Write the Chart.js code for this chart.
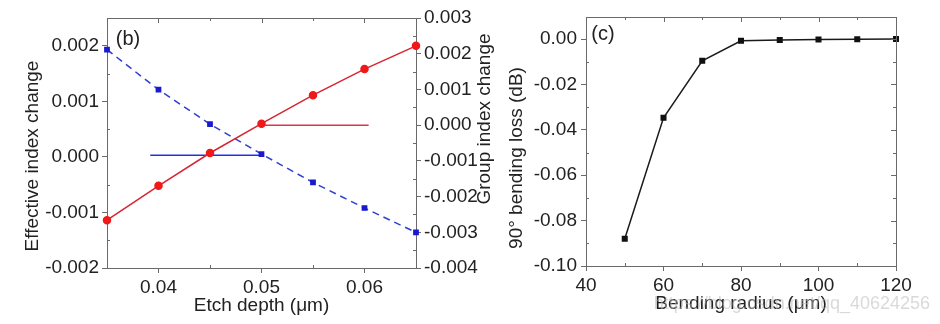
<!DOCTYPE html>
<html>
<head>
<meta charset="utf-8">
<script src="https://cdn.jsdelivr.net/npm/chart.js@4.4.1/dist/chart.umd.min.js"></script>
<style>
  html, body { margin: 0; padding: 0; background: #fff; }
  #wrap { position: relative; width: 940px; height: 324px; overflow: hidden; }
  #cb { position: absolute; left: 0; top: 0; }
  #cc { position: absolute; left: 500px; top: 0; }
</style>
</head>
<body>
<div id="wrap">
  <canvas id="cb" width="500" height="324"></canvas>
  <canvas id="cc" width="440" height="324"></canvas>
</div>
<script>
// ---- panel (b) data ----
const etchDepth = [0.035, 0.04, 0.045, 0.05, 0.055, 0.06, 0.065];
const groupIndexChange = [-0.00266, -0.0017, -0.00078, 0.00004, 0.00084, 0.00157, 0.00222];
const effIndexChange = [0.00193, 0.00121, 0.00059, 0.00005, -0.00046, -0.00092, -0.00136];
const blueArrowX = [0.0392, 0.05];
const blueArrowY = [0.00003, 0.00003];
const redArrowX = [0.05, 0.0604];
const redArrowY = [0, 0];
const depthTicks = [0.04, 0.05, 0.06];
const depthMinor = [0.045, 0.055];
const effTicks = [-0.002, -0.001, 0, 0.001, 0.002];
const effMinor = [-0.0015, -0.0005, 0.0005, 0.0015];
const groupTicks = [-0.004, -0.003, -0.002, -0.001, 0, 0.001, 0.002, 0.003];
const groupMinor = [-0.0035, -0.0025, -0.0015, -0.0005, 0.0005, 0.0015, 0.0025];

// ---- panel (c) data ----
const bendRadius = [50, 60, 70, 80, 90, 100, 110, 120];
const bendLoss = [-0.088, -0.0347, -0.0096, -0.0008, -0.0004, -0.0002, -0.0001, 0];
const radiusTicks = [40, 60, 80, 100, 120];
const radiusMinor = [50, 70, 90, 110];
const lossTicks = [-0.10, -0.08, -0.06, -0.04, -0.02, 0.00];
const lossMinor = [-0.09, -0.07, -0.05, -0.03, -0.01];

const FONT = '"Liberation Sans", Arial, sans-serif';
const axisColor = '#6a6a6a';
const textColor = '#222';

function xy(xs, ys) {
  return xs.map((x, i) => ({ x: x, y: ys[i] }));
}

function axis(tickList, digits, extra) {
  return Object.assign({
    type: 'linear',
    border: { display: true, color: axisColor, width: 1 },
    grid: { display: true, drawOnChartArea: false, drawTicks: true, tickLength: 5, color: axisColor },
    ticks: {
      color: textColor, font: { family: FONT, size: 19 }, padding: 3,
      autoSkip: false, maxRotation: 0,
      callback: v => Number(v).toFixed(digits)
    },
    afterBuildTicks: s => { s.ticks = tickList.map(v => ({ value: v })); }
  }, extra);
}

// minor ticks, frame and free texts
const decor = {
  id: 'decor',
  afterDraw(chart, args, o) {
    const { ctx, chartArea: a, scales } = chart;
    const r = v => Math.round(v) + 0.5;
    ctx.save();
    ctx.strokeStyle = axisColor;
    ctx.lineWidth = 1;
    ctx.beginPath();
    // top frame
    ctx.moveTo(a.left, r(a.top)); ctx.lineTo(a.right, r(a.top));
    if (o.rightFrame) { ctx.moveTo(r(a.right), a.top); ctx.lineTo(r(a.right), a.bottom); }
    const x = scales.x, y = scales.y;
    o.xMinor.forEach(v => {
      const p = r(x.getPixelForValue(v));
      ctx.moveTo(p, a.bottom); ctx.lineTo(p, a.bottom - 3);
      ctx.moveTo(p, a.top); ctx.lineTo(p, a.top + 3);
    });
    o.xMajor.forEach(v => {
      const p = r(x.getPixelForValue(v));
      ctx.moveTo(p, a.top); ctx.lineTo(p, a.top + 5);
    });
    o.yMinor.forEach(v => {
      const p = r(y.getPixelForValue(v));
      ctx.moveTo(a.left, p); ctx.lineTo(a.left + 3, p);
      if (o.rightFrame) { ctx.moveTo(a.right, p); ctx.lineTo(a.right - 3, p); }
    });
    if (o.rightFrame) {
      o.yMajor.forEach(v => {
        const p = r(y.getPixelForValue(v));
        ctx.moveTo(a.right, p); ctx.lineTo(a.right - 5, p);
      });
    }
    if (o.y1Minor && scales.y1) {
      o.y1Minor.forEach(v => {
        const p = r(scales.y1.getPixelForValue(v));
        ctx.moveTo(a.right, p); ctx.lineTo(a.right - 3, p);
      });
    }
    ctx.stroke();

    o.texts.forEach(t => {
      ctx.save();
      ctx.translate(t.x, t.y);
      ctx.rotate(t.rot || 0);
      ctx.font = (t.size || 19) + 'px ' + FONT;
      ctx.fillStyle = t.color || textColor;
      ctx.textAlign = t.align || 'center';
      ctx.textBaseline = 'middle';
      ctx.fillText(t.text, 0, 0);
      ctx.restore();
    });
    ctx.restore();
  }
};

// ---- chart (b) ----
new Chart(document.getElementById('cb'), {
  type: 'line',
  data: {
    datasets: [{
      data: xy(etchDepth, groupIndexChange),
      yAxisID: 'y1',
      borderColor: '#d62532',
      borderWidth: 1.5,
      pointRadius: 3.5,
      pointBackgroundColor: '#f01818',
      pointBorderColor: '#f01818',
      clip: false
    }, {
      data: xy(etchDepth, effIndexChange),
      yAxisID: 'y',
      borderColor: '#2f3fcc',
      borderWidth: 1.5,
      borderDash: [7, 5],
      pointStyle: 'rect',
      pointRadius: 3,
      pointBackgroundColor: '#1a1ad0',
      pointBorderColor: '#1a1ad0',
      clip: false
    }, {
      data: xy(redArrowX, redArrowY),
      yAxisID: 'y1',
      borderColor: '#e03344',
      borderWidth: 1.5,
      pointRadius: 0
    }, {
      data: xy(blueArrowX, blueArrowY),
      yAxisID: 'y',
      borderColor: '#2233e0',
      borderWidth: 1.5,
      pointRadius: 0
    }]
  },
  options: {
    responsive: false,
    animation: false,
    devicePixelRatio: 1,
    layout: { padding: { top: 18, left: 0, right: 0, bottom: 0 } },
    plugins: {
      legend: { display: false },
      tooltip: { enabled: false },
      decor: {
        xMajor: depthTicks, xMinor: depthMinor, yMajor: effTicks, yMinor: effMinor,
        y1Minor: groupMinor, rightFrame: false,
        texts: [
          { text: 'Effective index change', x: 33, y: 156, rot: -Math.PI / 2 },
          { text: 'Group index change', x: 485, y: 119, rot: -Math.PI / 2 },
          { text: '(b)', x: 128, y: 39, size: 20 }
        ]
      }
    },
    scales: {
      x: axis(depthTicks, 2, {
        min: 0.035, max: 0.065,
        title: { display: true, text: 'Etch depth (\u03bcm)', color: textColor, font: { family: FONT, size: 19 }, padding: { top: 0, bottom: 7 } },
        afterFit: s => { s.height = 56; }
      }),
      y: axis(effTicks, 3, {
        position: 'left', min: -0.002, max: 0.0025,
        afterFit: s => { s.width = 107; }
      }),
      y1: axis(groupTicks, 3, {
        position: 'right', min: -0.004, max: 0.003,
        afterFit: s => { s.width = 84; }
      })
    }
  },
  plugins: [decor]
});
</script>
<script>
// ---- chart (c) ----
const cOpts = {
  responsive: false,
  animation: false,
  devicePixelRatio: 1,
  layout: { padding: { top: 17, left: 0, right: 44, bottom: 0 } },
  plugins: {
    legend: { display: false },
    tooltip: { enabled: false },
    decor: {
      xMajor: radiusTicks, xMinor: radiusMinor, yMajor: lossTicks, yMinor: lossMinor,
      rightFrame: true,
      texts: [
        { text: 'https://blog.csdn.net/qq_40624256', x: 430, y: 304, align: 'right', size: 18, color: 'rgba(185,185,185,0.55)' },
        { text: '90\u00b0 bending loss (dB)', x: 17, y: 158, rot: -Math.PI / 2 },
        { text: '(c)', x: 103, y: 34, size: 20 }
      ]
    }
  },
  scales: {
    x: axis(radiusTicks, 0, {
      min: 40, max: 120,
      title: { display: true, text: 'Bending radius (\u03bcm)', color: textColor, font: { family: FONT, size: 19 }, padding: { top: 0, bottom: 9 } },
      afterFit: s => { s.height = 58; }
    }),
    y: axis(lossTicks, 2, {
      position: 'left', min: -0.10, max: 0.0097,
      afterFit: s => { s.width = 86; }
    })
  }
};
cOpts.scales.y.ticks.padding = 4;

new Chart(document.getElementById('cc'), {
  type: 'line',
  data: {
    datasets: [{
      data: xy(bendRadius, bendLoss),
      borderColor: '#1a1a1a',
      borderWidth: 1.5,
      pointStyle: 'rect',
      pointRadius: 3.2,
      pointBackgroundColor: '#111',
      pointBorderColor: '#111',
      clip: false
    }]
  },
  options: cOpts,
  plugins: [decor]
});
</script>
</body>
</html>
